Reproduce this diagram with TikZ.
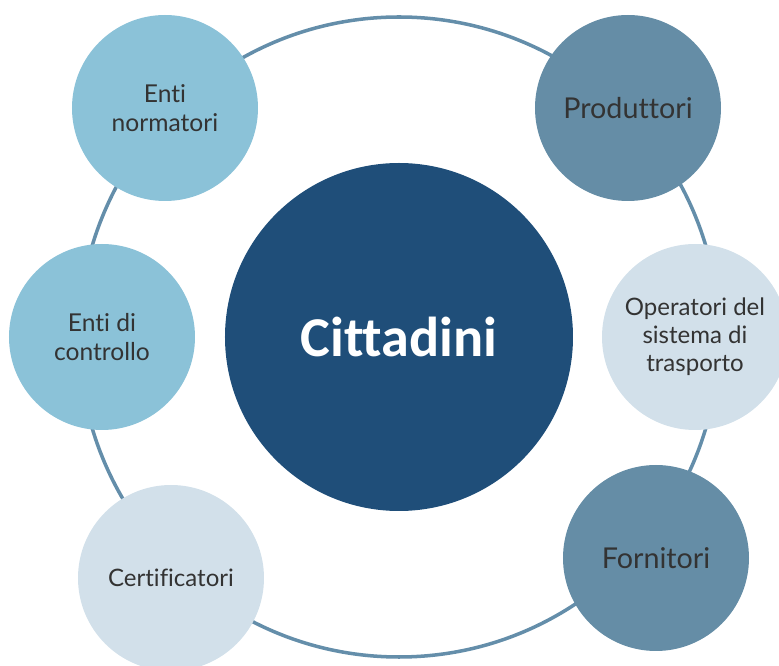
\documentclass[tikz,border=0pt]{standalone}
\usepackage{fontspec}
\setmainfont{Lato}[Ligatures={NoCommon,NoRare}]
\newfontfamily\calfont{Carlito}[Ligatures={NoCommon}]
\usepackage{tikz}
\usetikzlibrary{shapes,positioning}
\definecolor{darkblue}{RGB}{31,78,121}
\definecolor{skyblue}{RGB}{139,194,216}
\definecolor{steelblue}{RGB}{101,141,166}
\definecolor{paleblue}{RGB}{210,224,234}
\definecolor{ringblue}{RGB}{100,142,170}
\definecolor{textgray}{RGB}{51,51,51}
\tikzstyle{bigcircle}=[circle, fill=darkblue, text=white, minimum size=10.44cm, inner sep=0pt, font=\calfont\bfseries\fontsize{48}{56}\selectfont]
\tikzstyle{skycircle}=[circle, fill=skyblue, text=textgray, align=center, minimum size=5.58cm, inner sep=0pt, font=\fontsize{21}{25}\selectfont]
\tikzstyle{steelcircle}=[circle, fill=steelblue, text=textgray, align=center, minimum size=5.58cm, inner sep=0pt, font=\fontsize{24.5}{29}\selectfont]
\tikzstyle{palecircle}=[circle, fill=paleblue, text=textgray, align=center, minimum size=5.58cm, inner sep=0pt, font=\fontsize{20.5}{24}\selectfont]
\tikzstyle{ring}=[draw=ringblue, line width=3pt]

\begin{document}
\begin{tikzpicture}

\useasboundingbox (-11.97,-9.87) rectangle (11.4,10.11);

\coordinate (mid) at (0,0);
\draw[ring] (mid) circle (9.6);

\node[bigcircle] (cit) at (mid) {Cittadini};

\node[skycircle] (norm) at (-7.02,6.87) {Enti\\normatori};
\node[skycircle] (contr) at (-8.91,0) {Enti di\\controllo};
\node[palecircle] (cert) at (-6.84,-7.23) {Certificatori};
\node[steelcircle] (prod) at (6.87,6.87) {Produttori};
\node[palecircle] (oper) at (8.88,0) {Operatori del\\sistema di\\trasporto};
\node[steelcircle] (forn) at (7.71,-6.63) {Fornitori};

\end{tikzpicture}
\end{document}
